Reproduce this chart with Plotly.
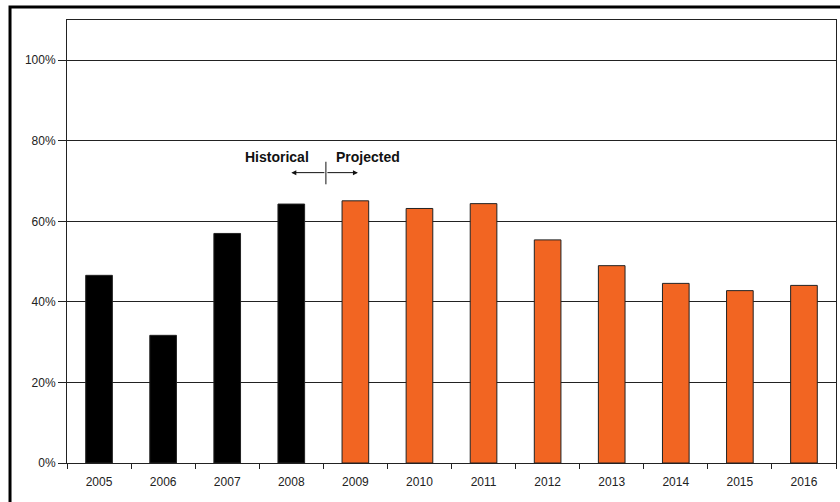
import plotly.graph_objects as go

hist_years = ["2005", "2006", "2007", "2008"]
hist_values = [46.6, 31.7, 57.0, 64.3]
proj_years = ["2009", "2010", "2011", "2012", "2013", "2014", "2015", "2016"]
proj_values = [65.1, 63.2, 64.4, 55.4, 49.0, 44.6, 42.8, 44.1]
y_ticks = [0, 20, 40, 60, 80, 100]
y_tick_labels = ["0%", "20%", "40%", "60%", "80%", "100%"]

FONT = "Liberation Sans, Arial, sans-serif"

fig = go.Figure()
fig.add_trace(go.Bar(x=hist_years, y=hist_values, marker=dict(color="#000000", line=dict(color="#222222", width=1))))
fig.add_trace(go.Bar(x=proj_years, y=proj_values, marker=dict(color="#F26522", line=dict(color="#222222", width=1))))

fig.update_layout(
    width=840, height=502,
    margin=dict(l=67, r=4, t=20, b=39),
    paper_bgcolor="white", plot_bgcolor="white",
    showlegend=False,
    barmode="overlay",
    bargap=0.584,
    font=dict(family=FONT, size=12, color="#222222"),
)
fig.update_xaxes(
    type="category",
    categoryorder="array", categoryarray=hist_years + proj_years,
    showline=True, linecolor="#222222", linewidth=1, mirror=True,
    ticks="outside", ticklen=5, tickcolor="#222222", tickson="boundaries",
    ticklabelstandoff=8,
    showgrid=False,
    tickfont=dict(size=12, family=FONT, color="#222222"),
)
fig.update_yaxes(
    range=[0, 110],
    tickvals=y_ticks, ticktext=y_tick_labels,
    showline=True, linecolor="#222222", linewidth=1, mirror=True,
    ticks="outside", ticklen=8, tickcolor="#222222",
    showgrid=True, gridcolor="#222222", gridwidth=1,
    zeroline=False,
    tickfont=dict(size=12, family=FONT, color="#222222"),
)

# Historical / Projected labels
fig.add_annotation(x=2.78, y=75.9, xref="x", yref="y", text="<b>Historical</b>", showarrow=False,
                   font=dict(size=14, family=FONT, color="#111111"))
fig.add_annotation(x=4.2, y=75.9, xref="x", yref="y", text="<b>Projected</b>", showarrow=False,
                   font=dict(size=14, family=FONT, color="#111111"))
# arrows
fig.add_annotation(x=3.0, y=72.1, ax=3.54, ay=72.1, xref="x", yref="y", axref="x", ayref="y",
                   text="", showarrow=True, arrowhead=2, arrowsize=1, arrowwidth=1, arrowcolor="#111111")
fig.add_annotation(x=4.04, y=72.1, ax=3.54, ay=72.1, xref="x", yref="y", axref="x", ayref="y",
                   text="", showarrow=True, arrowhead=2, arrowsize=1, arrowwidth=1, arrowcolor="#111111")
fig.add_shape(type="line", xref="x", yref="y", x0=3.54, x1=3.54, y0=69.2, y1=74.8,
              line=dict(color="#111111", width=1))

# outer frame
fig.add_shape(type="rect", xref="paper", yref="paper", x0=-0.0741, x1=1.06, y0=-0.25, y1=1.0293,
              line=dict(color="#000000", width=3), fillcolor="rgba(0,0,0,0)", layer="above")

fig.write_html("out.html")
